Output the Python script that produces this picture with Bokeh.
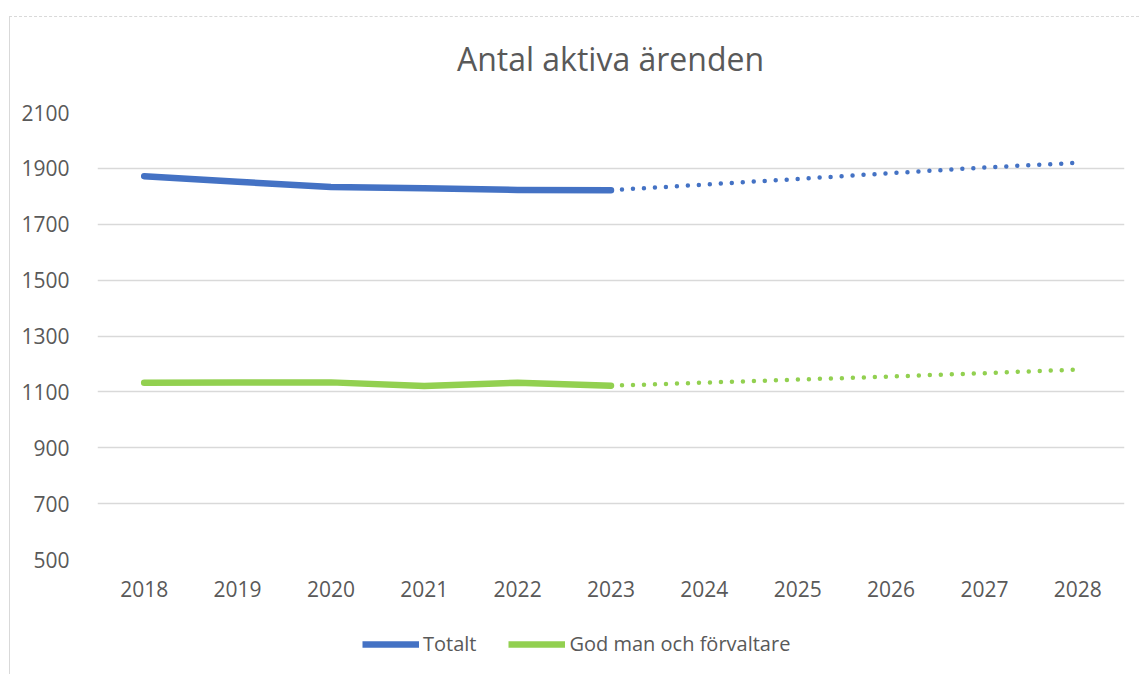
from bokeh.plotting import figure
from bokeh.layouts import column
from bokeh.models import Legend, LegendItem, FixedTicker, Range1d, Label
from bokeh.embed import file_html
from bokeh.resources import INLINE

title_text = "Antal aktiva ärenden"
years = ["2018", "2019", "2020", "2021", "2022", "2023", "2024", "2025", "2026", "2027", "2028"]
actual_years = years[:6]
forecast_years = years[5:]
totalt_actual = [1872, 1852, 1833, 1829, 1823, 1822]
totalt_forecast = [1822, 1842, 1862, 1883, 1903, 1920]
god_man_actual = [1133, 1134, 1134, 1121, 1133, 1122]
god_man_forecast = [1122, 1133, 1144, 1155, 1167, 1180]
y_ticks = [500, 700, 900, 1100, 1300, 1500, 1700, 1900, 2100]
series_names = ["Totalt", "God man och förvaltare"]

BLUE = "#4472C4"
GREEN = "#92D050"
GREY = "#595959"
FONT = "Open Sans"
BORDER = "1px solid #d9d9d9"


def strip(height):
    f = figure(width=1130, height=height, x_range=Range1d(0, 1), y_range=Range1d(0, 1),
               x_axis_type=None, y_axis_type=None, output_backend="svg", toolbar_location=None,
               min_border_left=0, min_border_right=0, min_border_top=0, min_border_bottom=0)
    f.xgrid.grid_line_color = None
    f.ygrid.grid_line_color = None
    f.outline_line_color = None
    return f


# Title strip
p0 = strip(84)
p0.margin = (16, 0, 0, 9)
p0.styles = {"border-left": BORDER, "border-top": "1px dashed #d9d9d9"}
p0.add_layout(Label(x=0.5, y=43, y_units="screen", text=title_text, text_align="center",
                    text_baseline="middle", text_font=FONT, text_font_size="32px",
                    text_color=GREY))

# Main chart
p = figure(x_range=years, y_range=Range1d(500, 2100),
           width=1130, height=514, frame_width=1026, frame_height=447,
           output_backend="svg", toolbar_location=None,
           min_border_left=87, min_border_top=12, min_border_right=17, min_border_bottom=55)
p.margin = (0, 0, 0, 9)
p.styles = {"border-left": BORDER}
p.outline_line_color = None
p.xgrid.grid_line_color = None
p.ygrid.grid_line_color = "#d9d9d9"
p.ygrid.grid_line_width = 1.5
p.yaxis.ticker = FixedTicker(ticks=y_ticks)

for ax in (p.xaxis[0], p.yaxis[0]):
    ax.axis_line_color = None
    ax.major_tick_line_color = None
    ax.minor_tick_line_color = None
    ax.major_label_text_font = FONT
    ax.major_label_text_font_size = "21px"
    ax.major_label_text_color = GREY
p.xaxis.major_label_standoff = 15
p.yaxis.major_label_standoff = 22

p.line(actual_years, totalt_actual, line_color=BLUE, line_width=6.5, line_cap="round", line_join="round")
p.line(forecast_years, totalt_forecast, line_color=BLUE, line_width=4.5, line_cap="round", line_dash="0 11")
p.line(actual_years, god_man_actual, line_color=GREEN, line_width=6.5, line_cap="round", line_join="round")
p.line(forecast_years, god_man_forecast, line_color=GREEN, line_width=4.5, line_cap="round", line_dash="0 11")

# Legend strip (series lines drawn outside its 0..1 range, only their legend swatches show)
p2 = strip(60)
p2.margin = (0, 0, 0, 9)
p2.styles = {"border-left": BORDER}
lr1 = p2.line(x=[0, 1], y=totalt_actual[:2], line_color=BLUE, line_width=6.5)
lr2 = p2.line(x=[0, 1], y=god_man_actual[:2], line_color=GREEN, line_width=6.5)
legend = Legend(items=[LegendItem(label=series_names[0], renderers=[lr1]),
                       LegendItem(label=series_names[1], renderers=[lr2])],
                orientation="horizontal", location=(265, 17),
                label_text_font=FONT, label_text_font_size="20px", label_text_color=GREY,
                glyph_width=57, glyph_height=20, label_height=20, label_standoff=4, spacing=32,
                border_line_color=None, background_fill_alpha=0, padding=0, margin=0)
p2.add_layout(legend, "center")

layout = column(p0, p, p2, spacing=0)
open("out.html", "w").write(file_html(layout, INLINE))
